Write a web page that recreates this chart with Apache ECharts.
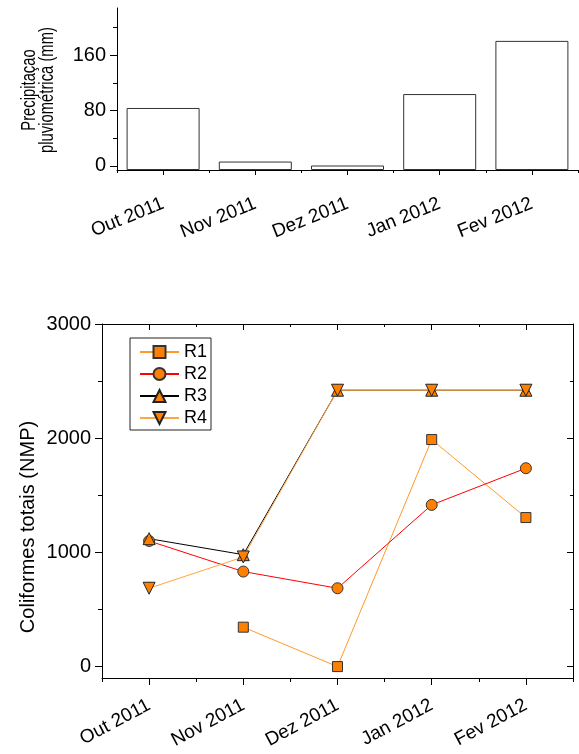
<!DOCTYPE html>
<html>
<head>
<meta charset="utf-8">
<script src="https://cdn.jsdelivr.net/npm/echarts@6/dist/echarts.min.js"></script>
<style>
html,body{margin:0;padding:0;background:#fff;}
#main{width:579px;height:754px;}
</style>
</head>
<body>
<div id="main"></div>
<script>
// categorias (meses)
var months = ['Out 2011', 'Nov 2011', 'Dez 2011', 'Jan 2012', 'Fev 2012'];
// precipitacao pluviometrica (mm)
var rain = [83.6, 6.2, 0.5, 103.7, 180.5];
// coliformes totais (NMP)
var r1 = [null, 345, 0, 1988, 1305];
var r2 = [1100, 832, 686, 1416, 1737];
var r3 = [1120, 980, 2420, 2420, 2420];
var r4 = [686, 960, 2420, 2420, 2420];
// ticks
var rainMin = -6, rainMax = 228;
var rainTicks = [0, 80, 160];
var rainMinor = [40, 120, 200];
var colMin = -100, colMax = 3000;
var colTicks = [0, 1000, 2000, 3000];
var colMinor = [500, 1500, 2500];

var FONT = 'Liberation Sans, Arial, sans-serif';
var AX = '#000';
var MARK = '#ff7f00';

function catAxis(grid, pos, opts) {
	var a = {
		type: 'category', gridIndex: grid, position: pos, data: months, boundaryGap: true,
		axisLine: {show: opts.line, onZero: false, lineStyle: {color: AX, width: 1}},
		axisTick: {show: true, alignWithLabel: opts.center, inside: opts.inside, length: opts.len,
			lineStyle: {color: AX, width: 1}},
		axisLabel: {show: false},
		splitLine: {show: false}
	};
	if (opts.labels) {
		a.axisLabel = {show: true, interval: 0, rotate: opts.rot, margin: opts.margin,
			color: '#000', fontSize: opts.fs, fontFamily: FONT};
	}
	return a;
}
function valAxis(grid, pos, min, max, ticks, opts) {
	return {
		type: 'value', gridIndex: grid, position: pos, min: min, max: max,
		axisLine: {show: opts.line, lineStyle: {color: AX, width: 1}},
		axisTick: {show: true, inside: opts.inside, length: opts.len, customValues: ticks,
			lineStyle: {color: AX, width: 1}},
		axisLabel: opts.labels ? {show: true, customValues: ticks, margin: 11, color: '#000',
			fontSize: 20, fontFamily: FONT, formatter: function(v){ return String(v); }} : {show: false},
		splitLine: {show: false}
	};
}

var chart = echarts.init(document.getElementById('main'), null, {renderer: 'canvas'});

var option = {
	animation: false,
	backgroundColor: '#fff',
	textStyle: {fontFamily: FONT},
	grid: [
		{left: 117, right: 1, top: 8, bottom: 584, outerBoundsMode: 'none', containLabel: false},
		{left: 102, right: 6, top: 324, bottom: 76, outerBoundsMode: 'none', containLabel: false}
	],
	xAxis: [
		catAxis(0, 'bottom', {line: true, center: true, inside: false, len: 5, labels: true, margin: 33, rot: 22, fs: 19}),
		catAxis(0, 'bottom', {line: false, center: false, inside: false, len: 3}),
		catAxis(1, 'bottom', {line: true, center: true, inside: false, len: 7, labels: true, margin: 26, rot: 28, fs: 19}),
		catAxis(1, 'bottom', {line: false, center: false, inside: false, len: 4}),
		catAxis(1, 'top', {line: true, center: true, inside: true, len: 6}),
		catAxis(1, 'top', {line: false, center: false, inside: true, len: 3})
	],
	yAxis: [
		valAxis(0, 'left', rainMin, rainMax, rainTicks, {line: true, inside: false, len: 7, labels: true}),
		valAxis(0, 'left', rainMin, rainMax, rainMinor, {line: false, inside: false, len: 4}),
		valAxis(1, 'left', colMin, colMax, colTicks, {line: true, inside: false, len: 7, labels: true}),
		valAxis(1, 'left', colMin, colMax, colMinor, {line: false, inside: false, len: 4}),
		valAxis(1, 'right', colMin, colMax, colTicks, {line: true, inside: true, len: 6}),
		valAxis(1, 'right', colMin, colMax, colMinor, {line: false, inside: true, len: 3})
	],
	legend: {
		left: 130, top: 338, orient: 'vertical',
		data: ['R1', 'R2', 'R3', 'R4'],
		itemWidth: 39, itemHeight: 15, itemGap: 4,
		padding: [5, 4, 3, 9],
		borderColor: '#222', borderWidth: 1, backgroundColor: '#fff',
		textStyle: {fontSize: 18, lineHeight: 17, color: '#000', fontFamily: FONT, padding: [0, 0, 0, 0]},
		selectedMode: false
	},
	graphic: [
		{type: 'text', x: 38, y: 90, rotation: Math.PI / 2, scaleX: 0.74,
			style: {text: 'Precipitaçao\npluviométrica (mm)', fontSize: 20, lineHeight: 18, fontFamily: FONT,
				fill: '#000', align: 'center', verticalAlign: 'middle'}},
		{type: 'text', x: 28, y: 527, rotation: Math.PI / 2,
			style: {text: 'Coliformes totais (NMP)', fontSize: 20, fontFamily: FONT,
				fill: '#000', align: 'center', verticalAlign: 'middle'}}
	],
	series: [
		{	// base para as barras partirem do fundo do eixo
			type: 'bar', xAxisIndex: 0, yAxisIndex: 0, stack: 'chuva', stackStrategy: 'all',
			data: rain.map(function(){ return rainMin; }), barWidth: 73, silent: true,
			itemStyle: {color: 'rgba(0,0,0,0)', borderWidth: 0}
		},
		{
			name: 'chuva', type: 'bar', xAxisIndex: 0, yAxisIndex: 0, stack: 'chuva', stackStrategy: 'all',
			data: rain.map(function(v){ return v - rainMin; }), barWidth: 73,
			itemStyle: {color: '#fff', borderColor: '#333', borderWidth: 1}
		},
		{
			name: 'R1', type: 'line', xAxisIndex: 2, yAxisIndex: 2, data: r1,
			symbol: 'rect', symbolSize: 10, showAllSymbol: true,
			lineStyle: {color: '#ff9a2a', width: 1},
			itemStyle: {color: MARK, borderColor: '#333', borderWidth: 1}
		},
		{
			name: 'R2', type: 'line', xAxisIndex: 2, yAxisIndex: 2, data: r2,
			symbol: 'circle', symbolSize: 11,
			lineStyle: {color: '#ff0000', width: 1},
			itemStyle: {color: MARK, borderColor: '#333', borderWidth: 1}
		},
		{
			name: 'R3', type: 'line', xAxisIndex: 2, yAxisIndex: 2, data: r3,
			symbol: 'triangle', symbolSize: 12,
			lineStyle: {color: '#000', width: 1},
			itemStyle: {color: MARK, borderColor: '#222', borderWidth: 1}
		},
		{
			name: 'R4', type: 'line', xAxisIndex: 2, yAxisIndex: 2, data: r4,
			symbol: 'triangle', symbolRotate: 180, symbolSize: 12,
			lineStyle: {color: '#ffa545', width: 1},
			itemStyle: {color: MARK, borderColor: '#222', borderWidth: 1}
		}
	]
};
chart.setOption(option);
</script>
</body>
</html>
